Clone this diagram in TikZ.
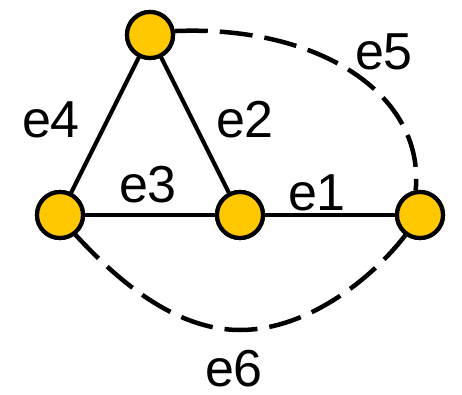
\documentclass[tikz,border=0pt]{standalone}
\usepackage{fontspec}
\setmainfont{Liberation Sans}
\definecolor{nodeyellow}{RGB}{255,200,0}
\begin{document}
\begin{tikzpicture}[x=1pt,y=-1pt,
  vertex/.style={circle,draw=black,fill=nodeyellow,line width=4.2pt,minimum size=46pt,inner sep=0pt},
  solidedge/.style={line width=4.2pt,black},
  dashededge/.style={line width=4.5pt,black,dash pattern=on 33pt off 12pt},
  elabel/.style={font=\fontsize{52}{52}\selectfont,anchor=base,inner sep=0pt}]
\useasboundingbox (0,0) rectangle (462,395);
\node[vertex] (t) at (150,35) {};
\node[vertex] (l) at (60,215) {};
\node[vertex] (m) at (240,215) {};
\node[vertex] (r) at (420,215) {};
\draw[solidedge] (t) -- (l);
\draw[solidedge] (t) -- (m);
\draw[solidedge] (l) -- (m);
\draw[solidedge] (m) -- (r);
\coordinate (bot) at (240,330);
\draw[dashededge] (t.9) .. controls (320,25) and (425,95) .. (r.100);
\draw[dashededge] (l.-52) .. controls (110,272) and (170,330) .. (bot)
  .. controls (310,330) and (375,275) .. (r.-126);
\node[vertex] at (t) {};
\node[vertex] at (l) {};
\node[vertex] at (m) {};
\node[vertex] at (r) {};
\node[elabel] (e4) at (51,138) {e4};
\node[elabel] (e2) at (245,138) {e2};
\node[elabel] (e3) at (148,202) {e3};
\node[elabel] (e1) at (317,210) {e1};
\node[elabel] (e5) at (384,70) {e5};
\node[elabel] (e6) at (234,386) {e6};
\end{tikzpicture}
\end{document}
